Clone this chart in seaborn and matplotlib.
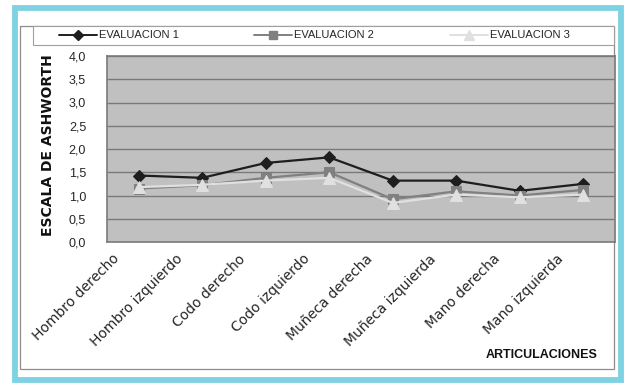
import matplotlib
matplotlib.use("Agg")
import matplotlib.pyplot as plt
import matplotlib.transforms as mtransforms
from matplotlib.patches import Rectangle
from matplotlib.lines import Line2D
from matplotlib.ticker import FixedLocator, FuncFormatter
import numpy as np
import pandas as pd
import seaborn as sns

# Data
articulaciones = ["Hombro derecho", "Hombro izquierdo", "Codo derecho", "Codo izquierdo",
                  "Muñeca derecha", "Muñeca izquierda", "Mano derecha", "Mano izquierda"]
evaluacion_1 = [1.43, 1.38, 1.70, 1.82, 1.32, 1.32, 1.10, 1.25]
evaluacion_2 = [1.15, 1.22, 1.38, 1.50, 0.92, 1.09, 1.00, 1.12]
evaluacion_3 = [1.18, 1.23, 1.32, 1.38, 0.84, 1.02, 0.96, 1.02]
series_names = ["EVALUACION 1", "EVALUACION 2", "EVALUACION 3"]
y_ticks = [0.0, 0.5, 1.0, 1.5, 2.0, 2.5, 3.0, 3.5, 4.0]

sns.set_style("white")
plt.rcParams["font.family"] = ["Liberation Sans", "DejaVu Sans"]

rows = []
for name, vals in zip(series_names, [evaluacion_1, evaluacion_2, evaluacion_3]):
    for i, (art, v) in enumerate(zip(articulaciones, vals)):
        rows.append({"pos": i, "articulacion": art, "evaluacion": name, "valor": v})
df = pd.DataFrame(rows)

colors = {"EVALUACION 1": "#1e1e1e", "EVALUACION 2": "#808080", "EVALUACION 3": "#e0e0e0"}
markers = {"EVALUACION 1": "D", "EVALUACION 2": "s", "EVALUACION 3": "^"}
msizes = {"EVALUACION 1": 6, "EVALUACION 2": 7, "EVALUACION 3": 8}

W, H = 626, 383
fig = plt.figure(figsize=(W / 100, H / 100), dpi=100)
fig.patch.set_facecolor("white")

def fx(x):
    return x / W

def fy(y):
    return 1 - y / H

# Outer light-blue frame and inner chart border
fig.patches.append(Rectangle((fx(14.5), fy(379.5)), fx(620.5) - fx(14.5), fy(7.5) - fy(379.5),
                             transform=fig.transFigure, facecolor="white",
                             edgecolor="#7fd2e2", linewidth=4.2, zorder=0))
fig.patches.append(Rectangle((fx(20), fy(369)), fx(614) - fx(20), fy(26) - fy(369),
                             transform=fig.transFigure, facecolor="white",
                             edgecolor="#8c8c8c", linewidth=0.9, zorder=1))
# Legend box
fig.patches.append(Rectangle((fx(33), fy(45)), fx(614) - fx(33), fy(26) - fy(45),
                             transform=fig.transFigure, facecolor="white",
                             edgecolor="#a0a0a0", linewidth=0.8, zorder=2))

ax = fig.add_axes([fx(107), fy(242), fx(615) - fx(107), fy(56) - fy(242)])
ax.set_zorder(5)
ax.set_facecolor("#c0c0c0")

for name in series_names:
    sub = df[df["evaluacion"] == name]
    sns.lineplot(data=sub, x="pos", y="valor", ax=ax, color=colors[name],
                 marker=markers[name], markersize=msizes[name],
                 markeredgecolor=colors[name], markerfacecolor=colors[name],
                 linewidth=1.6, sort=False, legend=False, zorder=3)

ax.set_xlim(-0.5, len(articulaciones) - 0.5)
ax.set_ylim(0, 4)
ax.yaxis.set_major_locator(FixedLocator(y_ticks))
ax.yaxis.set_major_formatter(FuncFormatter(lambda v, p: f"{v:.1f}".replace(".", ",")))
ax.grid(axis="y", color="#7a7a7a", linewidth=1.0)
ax.set_axisbelow(True)

ax.set_xticks(range(len(articulaciones)))
ax.set_xticklabels(articulaciones, rotation=45, ha="right", va="top",
                   rotation_mode="anchor", fontsize=10, family="DejaVu Sans")
ax.set_xticks(np.arange(-0.5, len(articulaciones) + 0.5, 1.0), minor=True)
ax.tick_params(axis="x", which="major", length=0, pad=7)
ax.tick_params(axis="x", which="minor", length=4, color="#808080", width=1)
ax.tick_params(axis="y", length=5, color="#808080", width=1, pad=10, labelsize=9)
offset = mtransforms.ScaledTranslation(-27 / 100, 0, fig.dpi_scale_trans)
for lab in ax.get_xticklabels():
    lab.set_transform(lab.get_transform() + offset)

for side in ["left", "right", "top", "bottom"]:
    ax.spines[side].set_visible(True)
    ax.spines[side].set_color("#7a7a7a")
    ax.spines[side].set_linewidth(1.2)

ax.set_xlabel("")
ax.set_ylabel("")

# Axis titles
fig.text(fx(48), fy(145), "ESCALA DE ASHWORTH", rotation=90, ha="center", va="center",
         fontsize=10, fontweight="bold", family="DejaVu Sans", color="#111111")
fig.text(fx(598), fy(355), "ARTICULACIONES", ha="right", va="center",
         fontsize=9, fontweight="bold", color="#111111")

# Legend
handles = [Line2D([], [], color=colors[n], marker=markers[n], markersize=msizes[n] - 1,
                  markerfacecolor=colors[n], markeredgecolor=colors[n], linewidth=1.4)
           for n in series_names]
fig.legend(handles, series_names, loc="center left", bbox_to_anchor=(fx(59), fy(35.5)),
           ncol=3, frameon=False, fontsize=8, handlelength=3.4, handletextpad=0.2,
           columnspacing=6.8, borderpad=0, borderaxespad=0)

fig.savefig("out.png", dpi=100)
